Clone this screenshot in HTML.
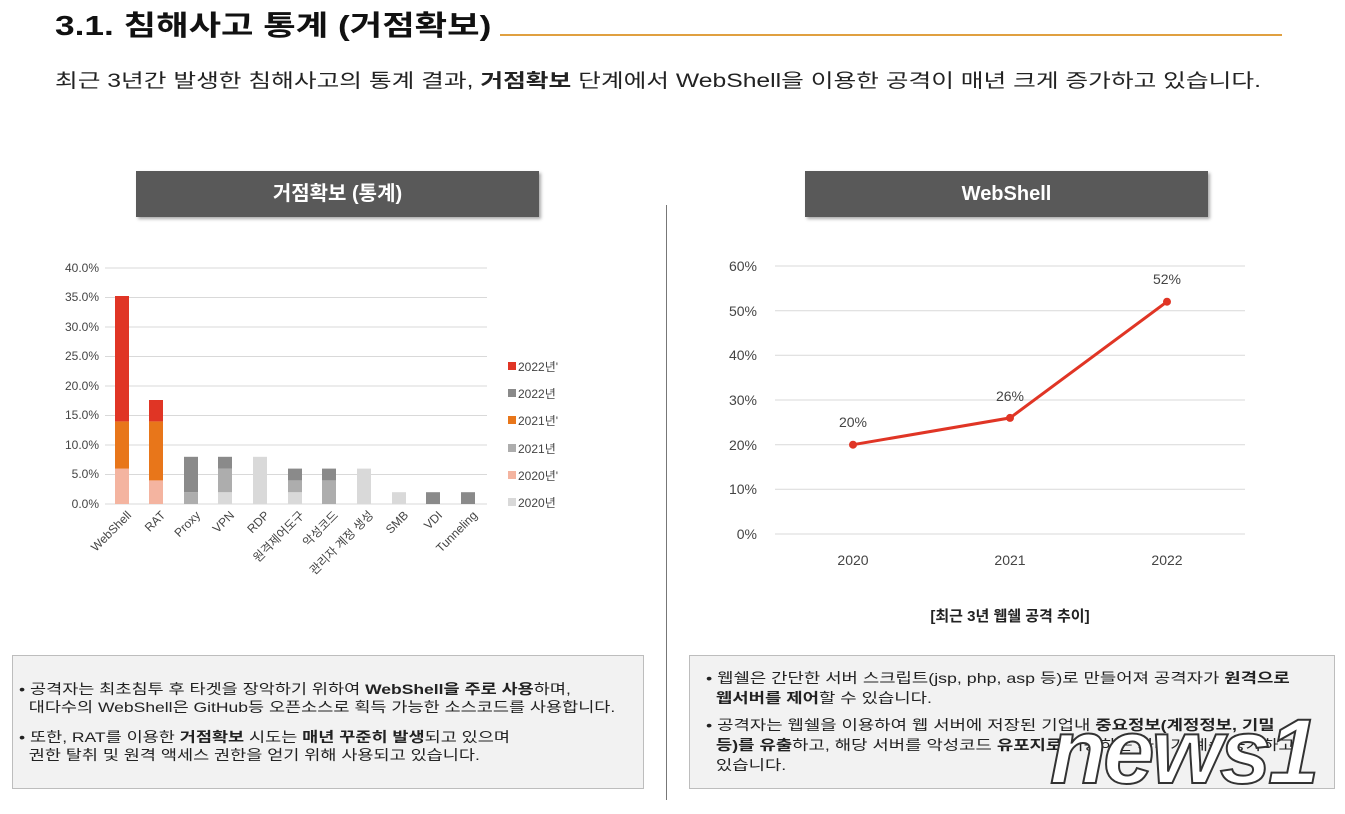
<!DOCTYPE html>
<html><head><meta charset="utf-8"><style>
body{margin:0;width:1345px;height:814px;background:#fff;overflow:hidden;font-family:"Liberation Sans","Noto Sans CJK KR",sans-serif;color:#222;position:relative}
.a{position:absolute}
.sx{display:inline-block;transform-origin:0 0;white-space:nowrap}
.box{position:absolute;background:#f2f2f2;border:1px solid #bdbdbd;font-size:14px;line-height:18px;color:#222}
</style></head><body>
<div class="a" style="left:55px;top:4px;font-size:28px;font-weight:bold;color:#111"><span class="sx" style="transform:scaleX(1.26)">3.1. 침해사고 통계 (거점확보)</span></div>
<div class="a" style="left:500px;top:34px;width:782px;height:2px;background:#e0a040"></div>
<div class="a" style="left:55px;top:66px;font-size:19px;color:#222"><span class="sx" style="transform:scaleX(1.3)">최근 3년간 발생한 침해사고의 통계 결과, <b>거점확보</b> 단계에서 WebShell을 이용한 공격이 매년 크게 증가하고 있습니다.</span></div>
<div class="a" style="left:136px;top:171px;width:403px;height:46px;background:#595959;color:#fff;font-weight:bold;font-size:20px;text-align:center;line-height:46px;box-shadow:2px 2px 3px #aaa">거점확보 (통계)</div>
<div class="a" style="left:805px;top:171px;width:403px;height:46px;background:#595959;color:#fff;font-weight:bold;font-size:20px;text-align:center;line-height:46px;box-shadow:2px 2px 3px #aaa">WebShell</div>
<div class="a" style="left:666px;top:205px;width:1px;height:595px;background:#777"></div>
<svg class="a" style="left:0;top:0" width="1345" height="814" font-family="Liberation Sans, Noto Sans CJK KR, sans-serif">
<g stroke="#d9d9d9" stroke-width="1">
<line x1="105" x2="487" y1="268" y2="268"/><line x1="105" x2="487" y1="297.5" y2="297.5"/><line x1="105" x2="487" y1="327" y2="327"/><line x1="105" x2="487" y1="356.5" y2="356.5"/><line x1="105" x2="487" y1="386" y2="386"/><line x1="105" x2="487" y1="415.5" y2="415.5"/><line x1="105" x2="487" y1="445" y2="445"/><line x1="105" x2="487" y1="474.5" y2="474.5"/><line x1="105" x2="487" y1="504" y2="504"/>
</g>
<g font-size="12" fill="#444" text-anchor="end">
<text x="99" y="272">40.0%</text><text x="99" y="301">35.0%</text><text x="99" y="331">30.0%</text><text x="99" y="360">25.0%</text><text x="99" y="390">20.0%</text><text x="99" y="419">15.0%</text><text x="99" y="449">10.0%</text><text x="99" y="478">5.0%</text><text x="99" y="508">0.0%</text>
</g>
<rect x="115" y="468.6" width="14" height="35.4" fill="#f4b4a0"/><rect x="115" y="421.4" width="14" height="47.2" fill="#e8761a"/><rect x="115" y="296" width="14" height="125.4" fill="#e03525"/>
<rect x="149" y="480.4" width="14" height="23.6" fill="#f4b4a0"/><rect x="149" y="421.4" width="14" height="59" fill="#e8761a"/><rect x="149" y="400" width="14" height="21.4" fill="#e03525"/>
<rect x="184" y="492.2" width="14" height="11.8" fill="#adadad"/><rect x="184" y="456.8" width="14" height="35.4" fill="#8a8a8a"/>
<rect x="218" y="492.2" width="14" height="11.8" fill="#d9d9d9"/><rect x="218" y="468.6" width="14" height="23.6" fill="#adadad"/><rect x="218" y="456.8" width="14" height="11.8" fill="#8a8a8a"/>
<rect x="253" y="456.8" width="14" height="47.2" fill="#d9d9d9"/>
<rect x="288" y="492.2" width="14" height="11.8" fill="#d9d9d9"/><rect x="288" y="480.4" width="14" height="11.8" fill="#adadad"/><rect x="288" y="468.6" width="14" height="11.8" fill="#8a8a8a"/>
<rect x="322" y="480.4" width="14" height="23.6" fill="#adadad"/><rect x="322" y="468.6" width="14" height="11.8" fill="#8a8a8a"/>
<rect x="357" y="468.6" width="14" height="35.4" fill="#d9d9d9"/>
<rect x="392" y="492.2" width="14" height="11.8" fill="#d9d9d9"/>
<rect x="426" y="492.2" width="14" height="11.8" fill="#8a8a8a"/>
<rect x="461" y="492.2" width="14" height="11.8" fill="#8a8a8a"/>
<g font-size="12" fill="#444" text-anchor="end">
<text transform="translate(132,516) rotate(-45)">WebShell</text>
<text transform="translate(166,516) rotate(-45)">RAT</text>
<text transform="translate(201,516) rotate(-45)">Proxy</text>
<text transform="translate(235,516) rotate(-45)">VPN</text>
<text transform="translate(270,516) rotate(-45)">RDP</text>
<text transform="translate(305,516) rotate(-45)">원격제어도구</text>
<text transform="translate(339,516) rotate(-45)">악성코드</text>
<text transform="translate(374,516) rotate(-45)">관리자 계정 생성</text>
<text transform="translate(409,516) rotate(-45)">SMB</text>
<text transform="translate(443,516) rotate(-45)">VDI</text>
<text transform="translate(478,516) rotate(-45)">Tunneling</text>
</g>
<g font-size="12" fill="#444">
<rect x="508" y="362" width="8" height="8" fill="#e03525"/><text x="518" y="371">2022년'</text>
<rect x="508" y="389" width="8" height="8" fill="#8a8a8a"/><text x="518" y="398">2022년</text>
<rect x="508" y="416" width="8" height="8" fill="#e8761a"/><text x="518" y="425">2021년'</text>
<rect x="508" y="444" width="8" height="8" fill="#adadad"/><text x="518" y="453">2021년</text>
<rect x="508" y="471" width="8" height="8" fill="#f4b4a0"/><text x="518" y="480">2020년'</text>
<rect x="508" y="498" width="8" height="8" fill="#d9d9d9"/><text x="518" y="507">2020년</text>
</g>
<g stroke="#d9d9d9"><line x1="775" x2="1245" y1="266" y2="266"/><line x1="775" x2="1245" y1="310.7" y2="310.7"/><line x1="775" x2="1245" y1="355.3" y2="355.3"/><line x1="775" x2="1245" y1="400" y2="400"/><line x1="775" x2="1245" y1="444.7" y2="444.7"/><line x1="775" x2="1245" y1="489.3" y2="489.3"/><line x1="775" x2="1245" y1="534" y2="534"/></g>
<g font-size="14" fill="#444" text-anchor="end">
<text x="757" y="271">60%</text><text x="757" y="316">50%</text><text x="757" y="360">40%</text><text x="757" y="405">30%</text><text x="757" y="450">20%</text><text x="757" y="494">10%</text><text x="757" y="539">0%</text>
</g>
<g font-size="14" fill="#444" text-anchor="middle">
<text x="853" y="565">2020</text><text x="1010" y="565">2021</text><text x="1167" y="565">2022</text>
<text x="853" y="427">20%</text><text x="1010" y="401">26%</text><text x="1167" y="284">52%</text>
</g>
<polyline points="853,444.7 1010,417.9 1167,301.7" fill="none" stroke="#e03525" stroke-width="3"/>
<circle cx="853" cy="444.7" r="4" fill="#e03525"/><circle cx="1010" cy="417.9" r="4" fill="#e03525"/><circle cx="1167" cy="301.7" r="4" fill="#e03525"/>
<text x="1010" y="621" font-size="15" font-weight="bold" text-anchor="middle" fill="#222">[최근 3년 웹쉘 공격 추이]</text>
</svg>
<div class="box" style="left:12px;top:655px;width:630px;height:132px">
<div style="position:absolute;left:6px;top:24px"><span class="sx" style="transform:scaleX(1.25)">• 공격자는 최초침투 후 타겟을 장악하기 위하여 <b>WebShell을 주로 사용</b>하며,<br>&nbsp;&nbsp;대다수의 WebShell은 GitHub등 오픈소스로 획득 가능한 소스코드를 사용합니다.</span></div>
<div style="position:absolute;left:6px;top:72px"><span class="sx" style="transform:scaleX(1.25)">• 또한, RAT를 이용한 <b>거점확보</b> 시도는 <b>매년 꾸준히 발생</b>되고 있으며<br>&nbsp;&nbsp;권한 탈취 및 원격 액세스 권한을 얻기 위해 사용되고 있습니다.</span></div>
</div>
<div class="box" style="left:689px;top:655px;width:644px;height:132px;line-height:20px">
<div style="position:absolute;left:16px;top:12px"><span class="sx" style="transform:scaleX(1.27)">• 웹쉘은 간단한 서버 스크립트(jsp, php, asp 등)로 만들어져 공격자가 <b>원격으로</b><br>&nbsp;&nbsp;<b>웹서버를 제어</b>할 수 있습니다.</span></div>
<div style="position:absolute;left:16px;top:59px"><span class="sx" style="transform:scaleX(1.27)">• 공격자는 웹쉘을 이용하여 웹 서버에 저장된 기업내 <b>중요정보(계정정보, 기밀</b><br>&nbsp;&nbsp;<b>등)를 유출</b>하고, 해당 서버를 악성코드 <b>유포지로</b> 이용하는 사례가 계속 증가하고<br>&nbsp;&nbsp;있습니다.</span></div>
</div>
<div class="a" style="left:1050px;top:700px;font-size:92px;font-style:italic;font-weight:bold;color:#fff;-webkit-text-stroke:2px #333;letter-spacing:-3px">news1</div>
</body></html>
